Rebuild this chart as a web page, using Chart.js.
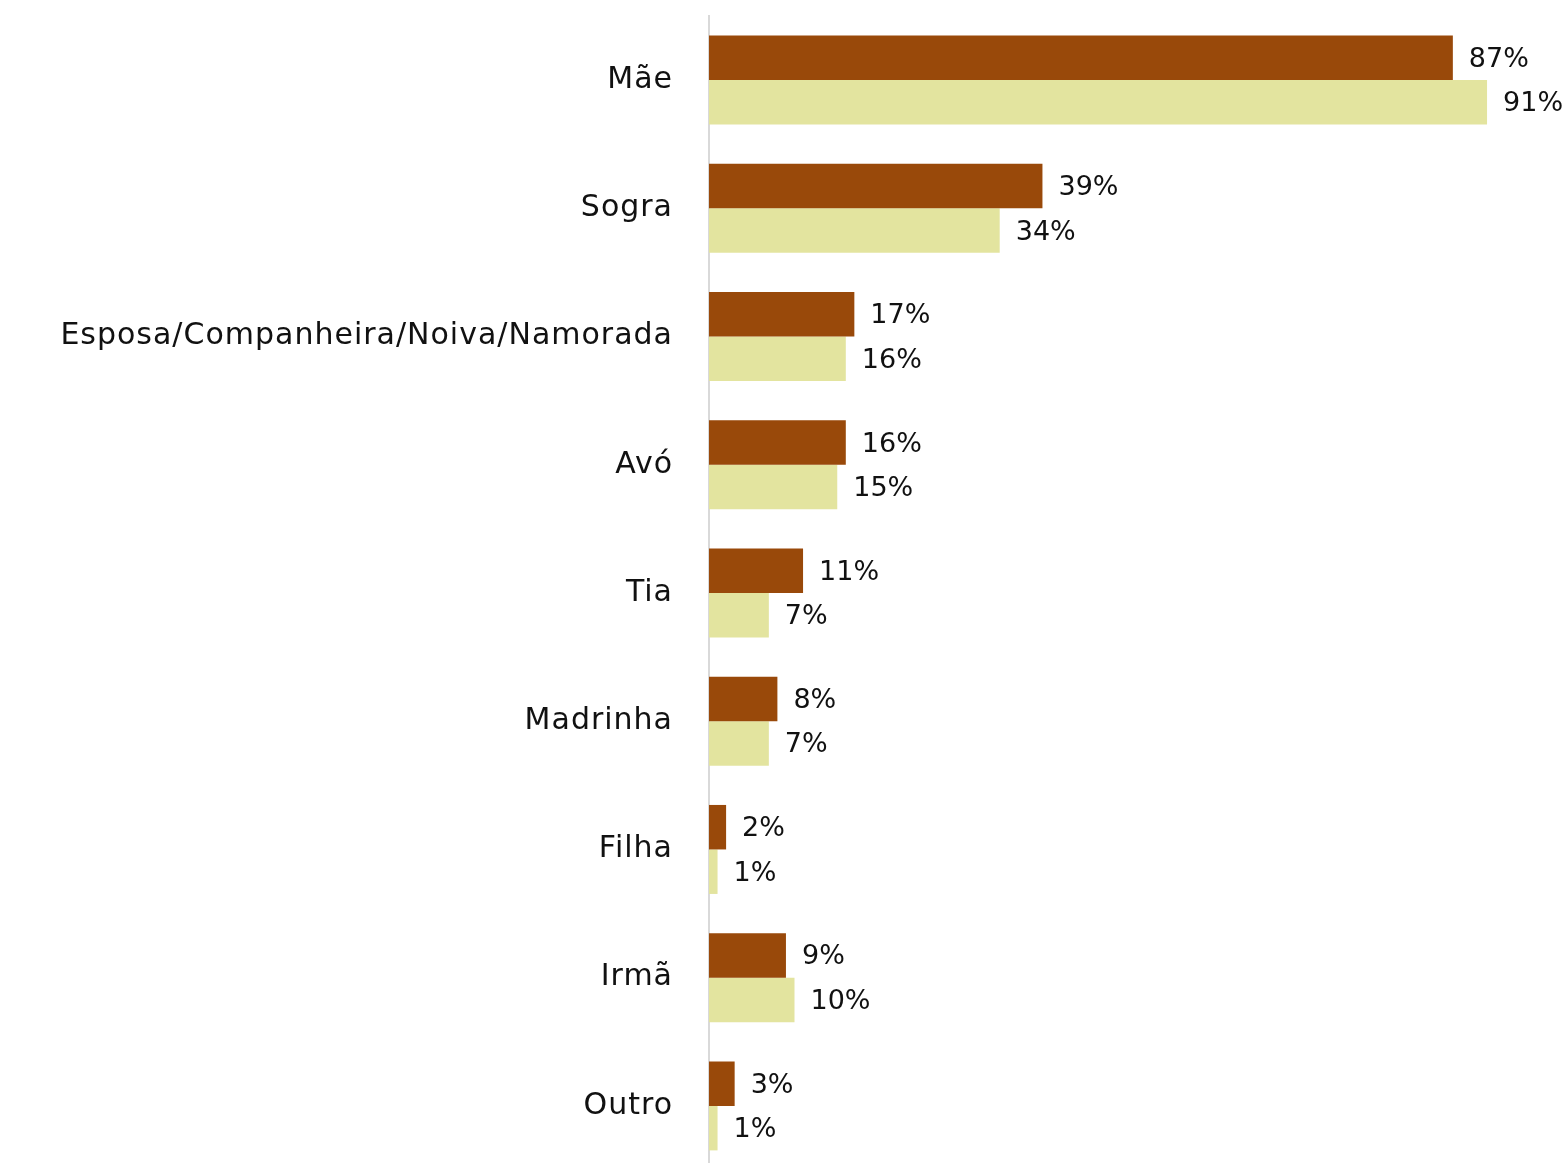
<!DOCTYPE html>
<html>
<head>
<meta charset="utf-8">
<script src="https://cdn.jsdelivr.net/npm/chart.js@4/dist/chart.umd.min.js"></script>
<style>
  html, body { margin: 0; padding: 0; background: #fff; overflow: hidden; }
  canvas { display: block; }
</style>
</head>
<body>
<canvas id="chart" width="1564" height="1170"></canvas>
<script>
const categories = ['Mãe', 'Sogra', 'Esposa/Companheira/Noiva/Namorada', 'Avó', 'Tia', 'Madrinha', 'Filha', 'Irmã', 'Outro'];
const seriesA = [87, 39, 17, 16, 11, 8, 2, 9, 3];
const seriesB = [91, 34, 16, 15, 7, 7, 1, 10, 1];

const FONT = '"DejaVu Sans", "Noto Sans", sans-serif';

// slightly wider tracking for the category labels
const tracking = {
  id: 'tracking',
  beforeDraw(chart) { chart.ctx.letterSpacing = '1px'; }
};

// value labels drawn just past the end of each bar
const valueLabels = {
  id: 'valueLabels',
  afterDatasetsDraw(chart) {
    const ctx = chart.ctx;
    ctx.save();
    ctx.letterSpacing = '0px';
    ctx.font = '27px ' + FONT;
    ctx.fillStyle = '#111';
    ctx.textAlign = 'left';
    ctx.textBaseline = 'middle';
    chart.data.datasets.forEach((ds, i) => {
      chart.getDatasetMeta(i).data.forEach((bar, j) => {
        ctx.fillText(ds.data[j] + '%', bar.x + 16, bar.y + 2);
      });
    });
    ctx.restore();
  }
};

new Chart(document.getElementById('chart'), {
  type: 'bar',
  data: {
    labels: categories,
    datasets: [
      { data: seriesA, backgroundColor: '#99490A', categoryPercentage: 0.694, barPercentage: 1 },
      { data: seriesB, backgroundColor: '#E3E49F', categoryPercentage: 0.694, barPercentage: 1 }
    ]
  },
  options: {
    indexAxis: 'y',
    responsive: false,
    devicePixelRatio: 1,
    animation: false,
    layout: { padding: { top: 16, right: 0, bottom: 0, left: 0 } },
    plugins: { legend: { display: false }, tooltip: { enabled: false } },
    scales: {
      x: { display: false, min: 0, max: 100 },
      y: {
        grid: { display: false, drawTicks: false },
        border: { display: true, color: '#D9D9D9', width: 2 },
        ticks: { color: '#111', font: { family: FONT, size: 30 }, padding: 36 },
        afterFit(scale) {
          scale.width = 709;
          scale.paddingTop = 0;
          scale.paddingBottom = 0;
        }
      }
    }
  },
  plugins: [tracking, valueLabels]
});
</script>
</body>
</html>
